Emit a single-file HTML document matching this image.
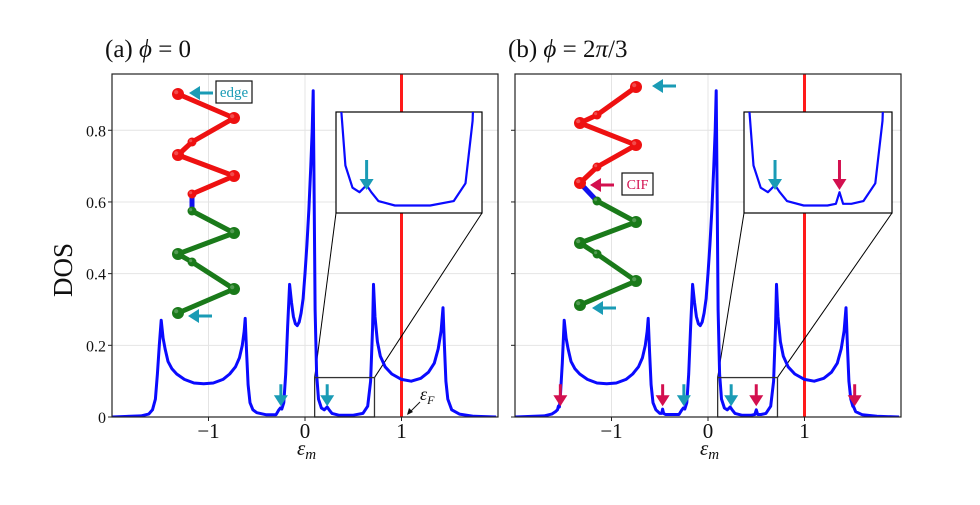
<!DOCTYPE html>
<html><head><meta charset="utf-8"><style>
html,body{margin:0;padding:0;background:#fff;width:980px;height:505px;overflow:hidden}
text{font-family:"Liberation Serif","DejaVu Serif",serif}
</style></head><body>
<svg id="fig" width="980" height="505" viewBox="0 0 980 505"></svg>
<script>
// ---- data ----
const xTicks = [-1, 0, 1];
const yTicks = [0, 0.2, 0.4, 0.6, 0.8];
const yTickLabels = ["0", "0.2", "0.4", "0.6", "0.8"];
const dosA_E = [-2,-1.7,-1.62,-1.58,-1.55,-1.53,-1.51,-1.49,-1.47,-1.45,-1.42,-1.38,-1.33,-1.25,-1.15,-1.05,-0.95,-0.85,-0.78,-0.72,-0.68,-0.65,-0.63,-0.62,-0.605,-0.59,-0.57,-0.54,-0.5,-0.4,-0.3,-0.27,-0.255,-0.24,-0.22,-0.2,-0.18,-0.16,-0.14,-0.12,-0.1,-0.08,-0.06,-0.04,-0.02,0,0.02,0.04,0.06,0.075,0.085,0.095,0.105,0.12,0.14,0.17,0.2,0.23,0.25,0.28,0.35,0.5,0.6,0.65,0.68,0.7,0.71,0.725,0.75,0.78,0.83,0.9,1.0,1.1,1.2,1.28,1.34,1.38,1.41,1.43,1.445,1.46,1.48,1.52,1.6,1.75,1.98];
const dosA_V = [0,0.003,0.008,0.02,0.05,0.12,0.2,0.27,0.22,0.19,0.155,0.135,0.12,0.105,0.095,0.093,0.095,0.105,0.12,0.14,0.165,0.2,0.24,0.275,0.18,0.09,0.04,0.02,0.012,0.006,0.006,0.02,0.025,0.022,0.04,0.12,0.25,0.37,0.32,0.28,0.26,0.255,0.265,0.29,0.33,0.4,0.48,0.58,0.7,0.8,0.91,0.6,0.3,0.12,0.05,0.025,0.02,0.028,0.02,0.01,0.005,0.005,0.01,0.03,0.1,0.25,0.37,0.28,0.21,0.17,0.14,0.12,0.105,0.1,0.108,0.125,0.15,0.19,0.24,0.305,0.2,0.1,0.05,0.02,0.008,0.002,0];
const dosB_E = [-2,-1.7,-1.62,-1.58,-1.56,-1.55,-1.54,-1.53,-1.51,-1.49,-1.47,-1.45,-1.42,-1.38,-1.33,-1.25,-1.15,-1.05,-0.95,-0.85,-0.78,-0.72,-0.68,-0.65,-0.63,-0.62,-0.605,-0.59,-0.57,-0.54,-0.5,-0.48,-0.47,-0.46,-0.44,-0.4,-0.3,-0.27,-0.255,-0.24,-0.22,-0.2,-0.18,-0.16,-0.14,-0.12,-0.1,-0.08,-0.06,-0.04,-0.02,0,0.02,0.04,0.06,0.075,0.085,0.095,0.105,0.12,0.14,0.17,0.2,0.23,0.25,0.28,0.35,0.45,0.485,0.5,0.515,0.55,0.6,0.65,0.68,0.7,0.71,0.725,0.75,0.78,0.83,0.9,1.0,1.1,1.2,1.28,1.34,1.38,1.41,1.43,1.445,1.46,1.48,1.5,1.51,1.53,1.6,1.75,1.98];
const dosB_V = [0,0.003,0.008,0.015,0.02,0.03,0.028,0.06,0.15,0.27,0.22,0.19,0.155,0.135,0.12,0.105,0.095,0.093,0.095,0.105,0.12,0.14,0.165,0.2,0.24,0.275,0.18,0.09,0.04,0.02,0.01,0.01,0.022,0.01,0.007,0.007,0.007,0.02,0.025,0.022,0.04,0.12,0.25,0.37,0.32,0.28,0.26,0.255,0.265,0.29,0.33,0.4,0.48,0.58,0.7,0.8,0.91,0.6,0.3,0.12,0.05,0.025,0.02,0.028,0.02,0.01,0.005,0.005,0.007,0.02,0.007,0.007,0.01,0.03,0.1,0.25,0.37,0.28,0.21,0.17,0.14,0.12,0.105,0.1,0.108,0.125,0.15,0.19,0.24,0.305,0.2,0.1,0.05,0.03,0.028,0.015,0.006,0.002,0];
const fermiE = 1.0;
const insetE = [0.1, 0.72];
const insetV = [0, 0.11];
const arrowsA_teal = [-0.25, 0.23];
const arrowsB_teal = [-0.25, 0.24];
const arrowsB_red = [-1.53, -0.47, 0.5, 1.52];
const insetArrowA_teal = [0.23];
const insetArrowB_teal = [0.23];
const insetArrowB_red = [0.5];

const NS = "http://www.w3.org/2000/svg";
const svg = document.getElementById("fig");
function el(tag, attrs, parent) {
  const e = document.createElementNS(NS, tag);
  for (const k in attrs) e.setAttribute(k, attrs[k]);
  (parent || svg).appendChild(e);
  return e;
}
const X0 = -2.0, X1 = 2.0, Y0 = 0, Y1 = 0.957;
function makePanel(left, name) {
  const right = left + 386, top = 74, bottom = 417;
  const sx = v => left + (v - X0) / (X1 - X0) * (right - left);
  const sy = v => bottom - (v - Y0) / (Y1 - Y0) * (bottom - top);
  return { left, right, top, bottom, sx, sy, name };
}
function pathFrom(E, V, fx, fy) {
  return E.map((e, i) => (i ? "L" : "M") + fx(e).toFixed(1) + "," + fy(V[i]).toFixed(1)).join(" ");
}
function downArrow(x, yTip, color, len, nm) {
  const g = el("g", {});
  
  
  el("line", { x1: x, y1: yTip - len, x2: x, y2: yTip - 9, stroke: color, "stroke-width": 3 }, g);
  el("polygon", { points: `${x-7},${yTip-11} ${x+7},${yTip-11} ${x},${yTip}`, fill: color }, g);
}
function leftArrow(x, y, color, nm) {
  const g = el("g", {});
  
  
  el("line", { x1: x + 9, y1: y, x2: x + 24, y2: y, stroke: color, "stroke-width": 3 }, g);
  el("polygon", { points: `${x+11},${y-7} ${x+11},${y+7} ${x},${y}`, fill: color }, g);
}
const TEAL = "#1a9bb5", RED = "#d3104f";

function drawPanel(P, E, V, tealA, redA, insetBox, insetTeal, insetRed, showYLabels, label) {
  const { sx, sy } = P;
  const clipId = "clip-" + P.name;
  const cp = el("clipPath", { id: clipId });
  el("rect", { x: P.left, y: P.top, width: P.right - P.left, height: P.bottom - P.top }, cp);
  xTicks.forEach(t => {
    const l = el("line", { x1: sx(t), x2: sx(t), y1: P.top, y2: P.bottom, stroke: "#e4e4e4", "stroke-width": 1 });
    
    
  });
  yTicks.forEach(t => {
    const l = el("line", { x1: P.left, x2: P.right, y1: sy(t), y2: sy(t), stroke: "#e4e4e4", "stroke-width": 1 });
    
    
  });
  const f = el("line", { x1: sx(fermiE), x2: sx(fermiE), y1: P.top, y2: P.bottom, stroke: "#ff1a1a", "stroke-width": 3 });
  
  
  const bx0 = sx(insetE[0]), bx1 = sx(insetE[1]), by0 = sy(insetV[1]), by1 = sy(insetV[0]);
  const c1 = el("line", { x1: bx0, y1: by0, x2: insetBox.x, y2: insetBox.y + insetBox.h, stroke: "#000", "stroke-width": 1 });
  
  
  const c2 = el("line", { x1: bx1, y1: by0, x2: insetBox.x + insetBox.w, y2: insetBox.y + insetBox.h, stroke: "#000", "stroke-width": 1 });
  
  
  const cur = el("path", { d: pathFrom(E, V, sx, sy), fill: "none", stroke: "#0a0aff", "stroke-width": 3, "stroke-linejoin": "round", "clip-path": `url(#${clipId})` });
  
  
  const zb = el("rect", { x: bx0, y: by0, width: bx1 - bx0, height: by1 - by0, fill: "none", stroke: "#333", "stroke-width": 1.3 });
  
  
  const ib = el("rect", { x: insetBox.x, y: insetBox.y, width: insetBox.w, height: insetBox.h, fill: "#fff", stroke: "#000", "stroke-width": 1.2 });
  
  
  const icp = el("clipPath", { id: clipId + "-in" });
  el("rect", { x: insetBox.x, y: insetBox.y, width: insetBox.w, height: insetBox.h }, icp);
  const ix = v => insetBox.x + (v - insetE[0]) / (insetE[1] - insetE[0]) * insetBox.w;
  const iy = v => insetBox.y + insetBox.h - 3 - (v - insetV[0]) / (insetV[1] - insetV[0]) * (insetBox.h - 3);
  const ic = el("path", { d: pathFrom(E, V, ix, iy), fill: "none", stroke: "#0a0aff", "stroke-width": 2.2, "stroke-linejoin": "round", "clip-path": `url(#${clipId}-in)` });
  
  
  insetTeal.forEach(e => downArrow(ix(e), insetBox.y + 78, TEAL, 30, 'inset-edge-arrow'));
  insetRed.forEach(e => downArrow(ix(e), insetBox.y + 78, RED, 30, 'inset-cif-arrow'));
  tealA.forEach(e => downArrow(sx(e), sy(0.03), TEAL, 22, 'edge-state-arrow'));
  redA.forEach(e => downArrow(sx(e), sy(0.03), RED, 22, 'cif-state-arrow'));
  const fr = el("rect", { x: P.left, y: P.top, width: P.right - P.left, height: P.bottom - P.top, fill: "none", stroke: "#222", "stroke-width": 1.2 });
  
  
  xTicks.forEach(t => {
    const l = el("line", { x1: sx(t), x2: sx(t), y1: P.bottom, y2: P.bottom + 4, stroke: "#222" });
    
    
    const tx = el("text", { x: sx(t), y: 438, "text-anchor": "middle", "font-size": 21, fill: "#111" });
    tx.textContent = t < 0 ? "\u2212" + Math.abs(t) : String(t);
    
    
  });
  yTicks.forEach((t, i) => {
    const l = el("line", { x1: P.left - 4, x2: P.left, y1: sy(t), y2: sy(t), stroke: "#222" });
    
    
    if (showYLabels) {
      const tx = el("text", { x: P.left - 6, y: sy(t) + 6, "text-anchor": "end", "font-size": 16, fill: "#111" });
      tx.textContent = yTickLabels[i];
      
      
    }
  });
  const xl = el("text", { x: sx(0) - 8, y: 455, "font-size": 21, "font-style": "italic", fill: "#111" });
  xl.innerHTML = 'ε<tspan font-size="15" dy="4">m</tspan>';
  
  
  const tl = el("text", { x: P.left - 7, y: 57, "font-size": 25, fill: "#111" });
  tl.innerHTML = label;
  
  
}
function chain(pts, nm) {
  const g = el("g", {});
  
  
  for (let i = 0; i < pts.length - 1; i++) {
    const a = pts[i], b = pts[i + 1];
    const col = a[3] !== b[3] ? "#1010ee" : (a[3] === "r" ? "#ee1111" : "#1a7a1a");
    el("line", { x1: a[0], y1: a[1], x2: b[0], y2: b[1], stroke: col, "stroke-width": 5 }, g);
  }
  pts.forEach(p => {
    const base = p[3] === "r" ? "#ee1111" : "#1a7a1a";
    el("circle", { cx: p[0], cy: p[1], r: p[2], fill: base }, g);
    el("circle", { cx: p[0] - p[2] * 0.3, cy: p[1] - p[2] * 0.3, r: p[2] * 0.35, fill: "#fff", opacity: 0.25 }, g);
  });
}

const A = makePanel(112, "a");
drawPanel(A, dosA_E, dosA_V, arrowsA_teal, [], { x: 336, y: 112, w: 146, h: 101 }, insetArrowA_teal, [], true, '(a) <tspan font-style="italic">ϕ</tspan> = 0');
const B = makePanel(515, "b");
drawPanel(B, dosB_E, dosB_V, arrowsB_teal, arrowsB_red, { x: 744, y: 112, w: 148, h: 101 }, insetArrowB_teal, insetArrowB_red, false, '(b) <tspan font-style="italic">ϕ</tspan> = 2<tspan font-style="italic">π</tspan>/3');

const yt = el("text", { x: 72, y: 270, "font-size": 27, "text-anchor": "middle", transform: "rotate(-90 72 270)", fill: "#111" });
yt.textContent = "DOS";



chain([[178,94,6,"r"],[234,118,6,"r"],[192,142,4.5,"r"],[178,155,6,"r"],[234,176,6,"r"],[192,194,4.5,"r"],[192,211,4.5,"g"],[234,233,6,"g"],[178,254,6,"g"],[192,262,4.5,"g"],[234,289,6,"g"],[178,313,6,"g"]], 'chain-diagram-a');
chain([[636,87,6,"r"],[597,115,4.5,"r"],[580,123,6,"r"],[636,145,6,"r"],[597,167,4.5,"r"],[580,183,6,"r"],[597,201,4.5,"g"],[636,222,6,"g"],[580,243,6,"g"],[597,254,4.5,"g"],[636,281,6,"g"],[580,305,6,"g"]], 'chain-diagram-b');

leftArrow(189, 93, TEAL, 'edge-arrow');
leftArrow(188, 316, TEAL, 'edge-arrow');
leftArrow(652, 86, TEAL, 'edge-arrow');
leftArrow(592, 308, TEAL, 'edge-arrow');
leftArrow(590, 185, RED, 'cif-arrow');

const eb = el("rect", { x: 216, y: 81, width: 36, height: 22, fill: "#fff", stroke: "#111", "stroke-width": 1.2 });


const et = el("text", { x: 234, y: 97, "text-anchor": "middle", "font-size": 15, fill: TEAL });
et.textContent = "edge";


const cb = el("rect", { x: 622, y: 173, width: 31, height: 22, fill: "#fff", stroke: "#111", "stroke-width": 1.2 });


const ct = el("text", { x: 637.5, y: 189, "text-anchor": "middle", "font-size": 14, fill: RED });
ct.textContent = "CIF";



const fa = el("g", {});


el("line", { x1: 420, y1: 402, x2: 409, y2: 413, stroke: "#111", "stroke-width": 1 }, fa);
el("polygon", { points: "407,415 409,408 413,412", fill: "#111" }, fa);
const ft = el("text", { x: 420, y: 400, "font-size": 18, "font-style": "italic", fill: "#111" }, fa);
ft.innerHTML = 'ε<tspan font-size="12" dy="4">F</tspan>';
</script>
</body></html>
